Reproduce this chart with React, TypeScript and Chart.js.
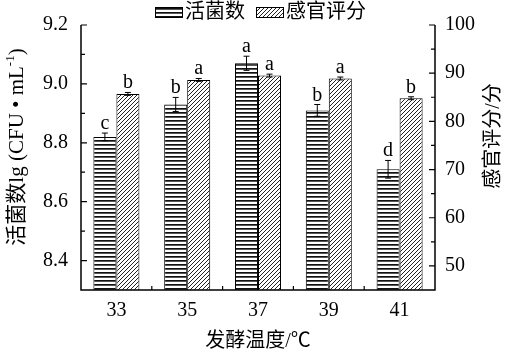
import React, { useEffect, useRef } from 'react';
import { Chart, registerables } from 'chart.js';

Chart.register(...registerables);

const categories = ['33', '35', '37', '39', '41'];
const viableCount = [8.82, 8.93, 9.07, 8.91, 8.71];
const viableErr = [0.013, 0.024, 0.024, 0.02, 0.03];
const viableLetters = ['c', 'b', 'a', 'b', 'd'];
const sensoryScore = [85.7, 88.6, 89.5, 88.9, 84.8];
const sensoryErr = [0.3, 0.3, 0.3, 0.3, 0.3];
const sensoryLetters = ['b', 'a', 'a', 'a', 'b'];
const leftTicks = [8.4, 8.6, 8.8, 9.0, 9.2];
const leftMinor = [8.5, 8.7, 8.9, 9.1];
const rightTicks = [50, 60, 70, 80, 90, 100];
const rightMinor = [55, 65, 75, 85, 95];
const seriesNames = ['活菌数', '感官评分'];
const xTitle = '发酵温度/℃';
const rightTitle = '感官评分/分';

const FONT = "'Liberation Serif', 'Times New Roman', 'Noto Sans CJK SC', serif";

function makeStripe(): CanvasPattern {
  const c = document.createElement('canvas');
  c.width = 8; c.height = 4;
  const g = c.getContext('2d')!;
  g.fillStyle = '#fff'; g.fillRect(0, 0, 8, 4);
  g.fillStyle = '#111'; g.fillRect(0, 0, 8, 1);
  g.fillStyle = '#555'; g.fillRect(0, 1, 8, 1);
  return g.createPattern(c, 'repeat')!;
}

function makeHatch(): CanvasPattern {
  const s = 4;
  const c = document.createElement('canvas');
  c.width = s; c.height = s;
  const g = c.getContext('2d')!;
  g.fillStyle = '#fff'; g.fillRect(0, 0, s, s);
  g.strokeStyle = '#222'; g.lineWidth = 1;
  for (const o of [-s, 0, s]) {
    g.beginPath();
    g.moveTo(o - 1, s + 1);
    g.lineTo(o + s + 1, -1);
    g.stroke();
  }
  return g.createPattern(c, 'repeat')!;
}

export default function App() {
  const ref = useRef<HTMLCanvasElement | null>(null);
  useEffect(() => {
    document.body.style.margin = '0';
    const stripe = makeStripe();
    const hatch = makeHatch();
    const errs = [viableErr, sensoryErr];
    const letters = [viableLetters, sensoryLetters];

    const overlay = {
      id: 'overlay',
      afterDatasetsDraw(chart: any) {
        const ctx = chart.ctx as CanvasRenderingContext2D;
        const { left, right, top, bottom } = chart.chartArea;
        const ys = chart.scales.y;
        const y1 = chart.scales.y1;
        const xs = chart.scales.x;
        ctx.save();
        // error bars and letters
        chart.data.datasets.forEach((ds: any, di: number) => {
          const meta = chart.getDatasetMeta(di);
          const sc = di === 0 ? ys : y1;
          meta.data.forEach((bar: any, i: number) => {
            const v = ds.data[i];
            const e = errs[di][i];
            const yt = sc.getPixelForValue(v + e);
            const yb = sc.getPixelForValue(v - e);
            ctx.strokeStyle = '#000';
            ctx.lineWidth = 1;
            ctx.beginPath();
            ctx.moveTo(bar.x, yt); ctx.lineTo(bar.x, yb);
            ctx.moveTo(bar.x - 3, yt); ctx.lineTo(bar.x + 3, yt);
            ctx.moveTo(bar.x - 3, yb); ctx.lineTo(bar.x + 3, yb);
            ctx.stroke();
            ctx.fillStyle = '#000';
            ctx.font = `20px ${FONT}`;
            ctx.textAlign = 'center';
            ctx.textBaseline = 'alphabetic';
            ctx.fillText(letters[di][i], bar.x, yt - 4);
          });
        });
        // axes lines
        ctx.strokeStyle = '#000';
        ctx.lineWidth = 1.5;
        ctx.beginPath();
        ctx.moveTo(left, top); ctx.lineTo(left, bottom); ctx.lineTo(right, bottom); ctx.lineTo(right, top);
        ctx.stroke();
        ctx.lineWidth = 1.2;
        ctx.beginPath();
        leftTicks.forEach(v => { const p = ys.getPixelForValue(v); ctx.moveTo(left, p); ctx.lineTo(left + 6, p); });
        leftMinor.forEach(v => { const p = ys.getPixelForValue(v); ctx.moveTo(left, p); ctx.lineTo(left + 4, p); });
        rightTicks.forEach(v => { const p = y1.getPixelForValue(v); ctx.moveTo(right, p); ctx.lineTo(right - 6, p); });
        rightMinor.forEach(v => { const p = y1.getPixelForValue(v); ctx.moveTo(right, p); ctx.lineTo(right - 4, p); });
        for (let i = 1; i < categories.length; i++) {
          const p = (xs.getPixelForValue(i - 1) + xs.getPixelForValue(i)) / 2;
          ctx.moveTo(p, bottom); ctx.lineTo(p, bottom - 4);
        }
        ctx.stroke();
        // legend
        const pats = [stripe, hatch];
        const lx = [155, 256];
        ctx.font = `20px ${FONT}`;
        ctx.textAlign = 'left';
        ctx.textBaseline = 'middle';
        seriesNames.forEach((n, i) => {
          ctx.fillStyle = pats[i] as any;
          ctx.fillRect(lx[i], 7, 27, 10);
          ctx.lineWidth = 1;
          ctx.strokeStyle = '#000';
          ctx.strokeRect(lx[i] + 0.5, 7.5, 27, 10);
          ctx.fillStyle = '#000';
          ctx.fillText(n, lx[i] + 30, 13);
        });
        // x title
        ctx.textAlign = 'center';
        ctx.textBaseline = 'middle';
        ctx.fillText(xTitle, (left + right) / 2, 342);
        // right title
        ctx.save();
        ctx.translate(494, 136);
        ctx.rotate(-Math.PI / 2);
        ctx.fillText(rightTitle, 0, 0);
        ctx.restore();
        // left title with superscript
        ctx.save();
        ctx.translate(17, 147);
        ctx.rotate(-Math.PI / 2);
        const partA = '活菌数lg (CFU • mL';
        const sup = '-1';
        const partC = ')';
        ctx.font = `21px ${FONT}`;
        const wA = ctx.measureText(partA).width;
        const wC = ctx.measureText(partC).width;
        ctx.font = `13px ${FONT}`;
        const wB = ctx.measureText(sup).width;
        const total = wA + wB + wC;
        let x0 = -total / 2;
        ctx.textAlign = 'left';
        ctx.font = `21px ${FONT}`;
        ctx.fillText(partA, x0, 0);
        x0 += wA;
        ctx.font = `13px ${FONT}`;
        ctx.fillText(sup, x0, -6);
        x0 += wB;
        ctx.font = `21px ${FONT}`;
        ctx.fillText(partC, x0, 0);
        ctx.restore();
        ctx.restore();
      },
    };

    const tickFont = { family: FONT, size: 20 };
    const chart = new Chart(ref.current!, {
      type: 'bar',
      data: {
        labels: categories,
        datasets: [
          { label: seriesNames[0], data: viableCount, yAxisID: 'y', backgroundColor: stripe as any, borderColor: '#000', borderWidth: 1, categoryPercentage: 0.65, barPercentage: 1 },
          { label: seriesNames[1], data: sensoryScore, yAxisID: 'y1', backgroundColor: hatch as any, borderColor: '#000', borderWidth: 1, categoryPercentage: 0.65, barPercentage: 1 },
        ],
      },
      options: {
        responsive: false,
        animation: false,
        layout: { padding: { top: 15, left: 0, right: 0, bottom: 0 } },
        plugins: { legend: { display: false }, tooltip: { enabled: false } },
        scales: {
          x: {
            grid: { display: false, drawTicks: false },
            border: { display: false },
            ticks: { font: tickFont, color: '#000', padding: 9 },
            afterFit: (s: any) => { s.height = 69; },
          },
          y: {
            position: 'left',
            min: 8.3,
            max: 9.2,
            afterBuildTicks: (s: any) => { s.ticks = leftTicks.map(v => ({ value: v })); },
            ticks: { font: tickFont, color: '#000', padding: 13, callback: (v: any) => Number(v).toFixed(1) },
            grid: { display: false, drawTicks: false },
            border: { display: false },
            afterFit: (s: any) => { s.width = 81; },
          },
          y1: {
            position: 'right',
            min: 45,
            max: 100,
            afterBuildTicks: (s: any) => { s.ticks = rightTicks.map(v => ({ value: v })); },
            ticks: { font: tickFont, color: '#000', padding: 10 },
            grid: { display: false, drawTicks: false },
            border: { display: false },
            afterFit: (s: any) => { s.width = 72; },
          },
        },
      },
      plugins: [overlay],
    });
    return () => chart.destroy();
  }, []);
  return (
    <div style={{ position: 'fixed', left: 0, top: 0, width: 507, height: 359, background: '#fff' }}>
      <canvas ref={ref} width={507} height={359} style={{ display: 'block' }} />
    </div>
  );
}
